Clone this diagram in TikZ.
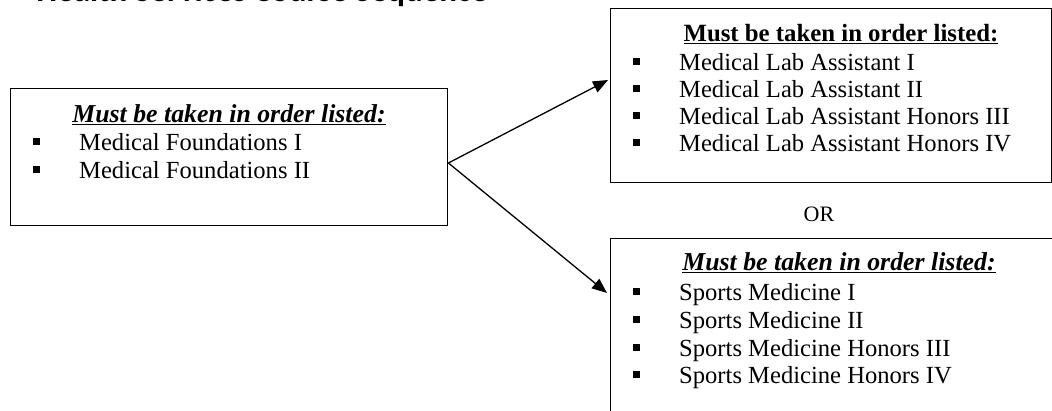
\documentclass[tikz,border=0pt]{standalone}
\usepackage{fontspec}
\setmainfont{Liberation Serif}
\newfontfamily\titlefont{Carlito}
\usetikzlibrary{arrows.meta,calc}
\newcommand{\bul}{\makebox[46pt][l]{\raisebox{5pt}{\rule{7pt}{7pt}}}}
\tikzset{
  boxnode/.style={draw=black, line width=1.4pt, rectangle, inner sep=0pt, anchor=north west},
  item/.style={anchor=base west, inner sep=0pt, font=\fontsize{24.6}{28}\selectfont},
  hdr/.style={anchor=base, inner sep=0pt, font=\fontsize{24.8}{28}\selectfont\bfseries},
  hdri/.style={anchor=base, inner sep=0pt, font=\fontsize{25.8}{28}\selectfont\bfseries\itshape},
  conn/.style={line width=1.3pt, -{Triangle[length=15pt,width=12pt]}}
}
\begin{document}
\begin{tikzpicture}[x=1pt,y=-1pt]
\useasboundingbox (0,0) rectangle (1052,410);
% title (cut off at the top edge)
\node[anchor=base, inner sep=0pt, font=\fontsize{33}{36}\titlefont\bfseries] (title) at (262,1.2) {Health Services Course Sequence};
% boxes
\node[boxnode, minimum width=437pt, minimum height=137pt] (lbox) at (10,88) {};
\node[boxnode, minimum width=441pt, minimum height=174pt] (tbox) at (610,8) {};
\node[boxnode, minimum width=460pt, minimum height=200pt] (bbox) at (610,238) {};
% left box
\node[hdri] (lh) at (229,122) {\underline{Must be taken in order listed:}};
\node[item] (l1) at (33,150) {\bul Medical Foundations I};
\node[item] (l2) at (33,178) {\bul Medical Foundations II};
% top right box
\node[hdr] (th) at (841,41) {\underline{Must be taken in order listed:}};
\node[item] (t1) at (633,70) {\bul Medical Lab Assistant I};
\node[item] (t2) at (633,97) {\bul Medical Lab Assistant II};
\node[item] (t3) at (633,124) {\bul Medical Lab Assistant Honors III};
\node[item] (t4) at (633,151) {\bul Medical Lab Assistant Honors IV};
% OR
\node[anchor=base, inner sep=0pt, font=\fontsize{22}{24}\selectfont] (or) at (819,221) {OR};
% bottom right box
\node[hdri] (bh) at (839,270) {\underline{Must be taken in order listed:}};
\node[item] (b1) at (633,300) {\bul Sports Medicine I};
\node[item] (b2) at (633,328) {\bul Sports Medicine II};
\node[item] (b3) at (633,356) {\bul Sports Medicine Honors III};
\node[item] (b4) at (633,383) {\bul Sports Medicine Honors IV};
% connectors
\coordinate (src) at ($(lbox.north east)+(0,75)$);
\coordinate (dst1) at ($(tbox.north west)+(-2,72)$);
\coordinate (dst2) at ($(bbox.north west)+(-3,55)$);
\draw[conn] (src) -- (dst1);
\draw[conn] (src) -- (dst2);
\end{tikzpicture}
\end{document}
